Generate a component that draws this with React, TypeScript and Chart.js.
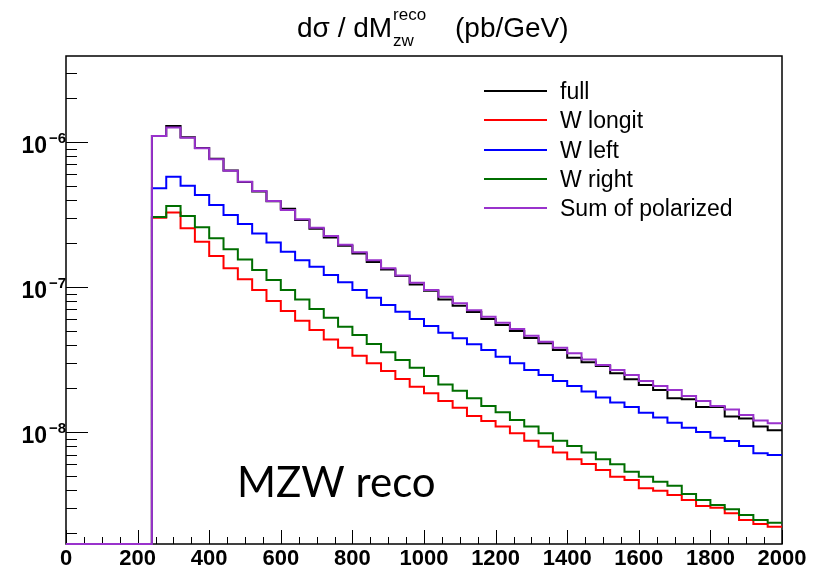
import React, { useEffect, useRef } from 'react';
import { Chart, registerables } from 'chart.js';

Chart.register(...registerables);

// ---- data ----
const binLowEdges = [
  0, 40, 80, 120, 160, 200, 240, 280, 320, 360, 400, 440, 480, 520, 560, 600, 640, 680, 720, 760,
  800, 840, 880, 920, 960, 1000, 1040, 1080, 1120, 1160, 1200, 1240, 1280, 1320, 1360, 1400, 1440, 1480,
  1520, 1560, 1600, 1640, 1680, 1720, 1760, 1800, 1840, 1880, 1920, 1960,
];
const xAxisMax = 2000;

const full = [
  0, 0, 0, 0, 0, 0,
  1.10e-6, 1.29e-6, 1.08e-6, 9.1e-7, 7.67e-7, 6.36e-7, 5.30e-7, 4.55e-7, 3.90e-7, 3.47e-7, 2.90e-7,
  2.52e-7, 2.20e-7, 1.93e-7, 1.70e-7, 1.49e-7, 1.32e-7, 1.19e-7, 1.04e-7, 9.43e-8, 8.22e-8, 7.43e-8,
  6.72e-8, 6.02e-8, 5.47e-8, 4.97e-8, 4.45e-8, 4.09e-8, 3.68e-8, 3.25e-8, 3.03e-8, 2.85e-8, 2.54e-8,
  2.31e-8, 2.11e-8, 1.95e-8, 1.71e-8, 1.68e-8, 1.49e-8, 1.49e-8, 1.28e-8, 1.24e-8, 1.09e-8, 1.03e-8,
];
const wLongit = [
  0, 0, 0, 0, 0, 0,
  3.01e-7, 3.27e-7, 2.54e-7, 2.05e-7, 1.64e-7, 1.35e-7, 1.13e-7, 9.53e-8, 8.0e-8, 6.83e-8, 5.86e-8,
  5.05e-8, 4.35e-8, 3.81e-8, 3.36e-8, 2.98e-8, 2.64e-8, 2.32e-8, 2.05e-8, 1.85e-8, 1.64e-8, 1.47e-8,
  1.29e-8, 1.19e-8, 1.09e-8, 9.80e-9, 8.71e-9, 7.92e-9, 7.24e-9, 6.48e-9, 6.02e-9, 5.47e-9, 4.92e-9,
  4.67e-9, 4.09e-9, 3.94e-9, 3.68e-9, 3.40e-9, 3.09e-9, 3.01e-9, 2.75e-9, 2.47e-9, 2.32e-9, 2.22e-9,
];
const wLeft = [
  0, 0, 0, 0, 0, 0,
  4.80e-7, 5.77e-7, 5.00e-7, 4.31e-7, 3.68e-7, 3.14e-7, 2.72e-7, 2.34e-7, 2.03e-7, 1.75e-7, 1.53e-7,
  1.38e-7, 1.21e-7, 1.08e-7, 9.53e-8, 8.44e-8, 7.51e-8, 6.76e-8, 6.02e-8, 5.38e-8, 4.84e-8, 4.43e-8,
  4.03e-8, 3.68e-8, 3.31e-8, 2.98e-8, 2.68e-8, 2.47e-8, 2.25e-8, 2.08e-8, 1.90e-8, 1.73e-8, 1.60e-8,
  1.49e-8, 1.36e-8, 1.26e-8, 1.16e-8, 1.07e-8, 1.00e-8, 9.14e-9, 8.67e-9, 8.00e-9, 7.13e-9, 6.94e-9,
];
const wRight = [
  0, 0, 0, 0, 0, 0,
  3.04e-7, 3.62e-7, 3.09e-7, 2.58e-7, 2.17e-7, 1.82e-7, 1.55e-7, 1.31e-7, 1.12e-7, 9.53e-8, 8.22e-8,
  7.05e-8, 6.14e-8, 5.32e-8, 4.67e-8, 4.04e-8, 3.55e-8, 3.14e-8, 2.78e-8, 2.43e-8, 2.13e-8, 1.93e-8,
  1.71e-8, 1.51e-8, 1.37e-8, 1.21e-8, 1.09e-8, 9.80e-9, 8.71e-9, 8.00e-9, 7.24e-9, 6.48e-9, 5.99e-9,
  5.33e-9, 4.92e-9, 4.54e-9, 4.26e-9, 3.74e-9, 3.40e-9, 3.14e-9, 2.94e-9, 2.68e-9, 2.47e-9, 2.37e-9,
];
const sumPolarized = [
  0, 0, 0, 0, 0, 0,
  1.10e-6, 1.26e-6, 1.07e-6, 9.05e-7, 7.60e-7, 6.34e-7, 5.32e-7, 4.59e-7, 3.92e-7, 3.40e-7, 2.93e-7,
  2.56e-7, 2.25e-7, 1.96e-7, 1.74e-7, 1.53e-7, 1.35e-7, 1.20e-7, 1.07e-7, 9.53e-8, 8.57e-8, 7.72e-8,
  6.93e-8, 6.23e-8, 5.67e-8, 5.13e-8, 4.61e-8, 4.19e-8, 3.81e-8, 3.49e-8, 3.17e-8, 2.90e-8, 2.68e-8,
  2.47e-8, 2.25e-8, 2.08e-8, 1.95e-8, 1.77e-8, 1.64e-8, 1.51e-8, 1.43e-8, 1.31e-8, 1.20e-8, 1.15e-8,
];

const seriesLabels = ['full', 'W longit', 'W left', 'W right', 'Sum of polarized'];
const seriesValues = [full, wLongit, wLeft, wRight, sumPolarized];
const seriesColors = ['#000000', '#ff0000', '#0000ff', '#006e00', '#9932cc'];
const seriesDrawOrder = [4, 3, 2, 1, 0];

const xMajorTicks = [0, 200, 400, 600, 800, 1000, 1200, 1400, 1600, 1800, 2000];
const xTickLabels = ['0', '200', '400', '600', '800', '1000', '1200', '1400', '1600', '1800', '2000'];
const xMinorStep = 50;
const yDecadeExponents = [-9, -8, -7, -6];
const yLabelExponents = [-8, -7, -6];
const yAxisMin = 1.69e-9;
const yAxisMax = 3.92e-6;

const titleMain = 'd\u03c3 / dM';
const titleSup = 'reco';
const titleSub = 'zw';
const titleUnit = '(pb/GeV)';
const annotationText = 'MZW reco';

const SANS = '"Liberation Sans", Arial, Helvetica, sans-serif';

function buildPoints(values: number[]) {
  const pts = binLowEdges.map((x, i) => ({ x, y: values[i] > 0 ? values[i] : yAxisMin }));
  pts.push({ x: xAxisMax, y: pts[pts.length - 1].y });
  return pts;
}

const decorPlugin = {
  id: 'rootDecor',
  beforeDatasetsDraw(chart: any) {
    const ctx = chart.ctx as CanvasRenderingContext2D;
    const area = chart.chartArea;
    const xs = chart.scales.x;
    const ys = chart.scales.y;
    ctx.save();
    ctx.strokeStyle = '#000';
    // frame
    ctx.lineWidth = 1.5;
    ctx.strokeRect(area.left, area.top, area.right - area.left, area.bottom - area.top);
    // x ticks
    ctx.lineWidth = 1;
    ctx.beginPath();
    for (let v = 0; v <= xAxisMax; v += xMinorStep) {
      const px = Math.round(xs.getPixelForValue(v)) + 0.5;
      const len = v % 200 === 0 ? 14 : 7;
      ctx.moveTo(px, area.bottom);
      ctx.lineTo(px, area.bottom - len);
    }
    // y ticks
    for (const e of yDecadeExponents) {
      for (let m = 1; m <= 9; m++) {
        const val = m * Math.pow(10, e);
        if (val < yAxisMin || val > yAxisMax) continue;
        const py = Math.round(ys.getPixelForValue(val)) + 0.5;
        const len = m === 1 ? 22 : 11;
        ctx.moveTo(area.left, py);
        ctx.lineTo(area.left + len, py);
      }
    }
    ctx.stroke();
    ctx.restore();
  },
  afterDraw(chart: any) {
    const ctx = chart.ctx as CanvasRenderingContext2D;
    const xs = chart.scales.x;
    const ys = chart.scales.y;
    ctx.save();
    ctx.fillStyle = '#000';

    // x labels
    ctx.font = `bold 22px ${SANS}`;
    ctx.textAlign = 'center';
    ctx.textBaseline = 'alphabetic';
    xMajorTicks.forEach((v, i) => {
      ctx.fillText(xTickLabels[i], xs.getPixelForValue(v), 565);
    });

    // y labels
    for (const e of yLabelExponents) {
      const py = ys.getPixelForValue(Math.pow(10, e));
      ctx.font = `bold 23px ${SANS}`;
      ctx.textAlign = 'right';
      ctx.fillText('10', 47, py + 11);
      ctx.font = `bold 15px ${SANS}`;
      ctx.textAlign = 'left';
      ctx.fillText('\u2212' + Math.abs(e), 49, py + 1);
    }

    // title
    ctx.textAlign = 'left';
    ctx.font = `28px ${SANS}`;
    let tx = 297;
    const tBase = 37;
    ctx.fillText(titleMain, tx, tBase);
    tx += ctx.measureText(titleMain).width + 1;
    ctx.font = `17px ${SANS}`;
    ctx.fillText(titleSup, tx, 20);
    ctx.fillText(titleSub, tx, 46);
    ctx.font = `28px ${SANS}`;
    ctx.fillText(titleUnit, 455, tBase);

    // legend
    const rowY = [91, 120, 150, 179, 208];
    ctx.font = `23px ${SANS}`;
    seriesLabels.forEach((lab, i) => {
      ctx.strokeStyle = seriesColors[i];
      ctx.lineWidth = 2;
      ctx.beginPath();
      ctx.moveTo(484, rowY[i]);
      ctx.lineTo(547, rowY[i]);
      ctx.stroke();
      ctx.fillStyle = '#000';
      ctx.fillText(lab, 560, rowY[i] + 8);
    });

    // annotation
    ctx.font = `42px Lato, "Open Sans", sans-serif`;
    ctx.fillText(annotationText, 237, 497);
    ctx.restore();
  },
};

export default function App() {
  const ref = useRef<HTMLCanvasElement | null>(null);
  useEffect(() => {
    if (!ref.current) return;
    const chart = new Chart(ref.current, {
      type: 'line',
      data: {
        datasets: seriesLabels.map((label, i) => ({
          label,
          data: buildPoints(seriesValues[i]),
          borderColor: seriesColors[i],
          backgroundColor: seriesColors[i],
          borderWidth: 2,
          pointRadius: 0,
          stepped: true,
          fill: false,
          clip: false,
          order: seriesDrawOrder[i],
        })),
      },
      options: {
        animation: false,
        responsive: false,
        devicePixelRatio: 1,
        layout: { padding: { left: 66, right: 33, top: 56, bottom: 26 } },
        plugins: { legend: { display: false }, tooltip: { enabled: false }, title: { display: false } },
        scales: {
          x: { type: 'linear', min: 0, max: xAxisMax, display: false },
          y: { type: 'logarithmic', min: yAxisMin, max: yAxisMax, display: false },
        },
      },
      plugins: [decorPlugin],
    });
    return () => chart.destroy();
  }, []);
  return (
    <div style={{ position: 'fixed', left: 0, top: 0, width: 815, height: 570, background: '#fff' }}>
      <canvas ref={ref} width={815} height={570} style={{ display: 'block' }} />
    </div>
  );
}
